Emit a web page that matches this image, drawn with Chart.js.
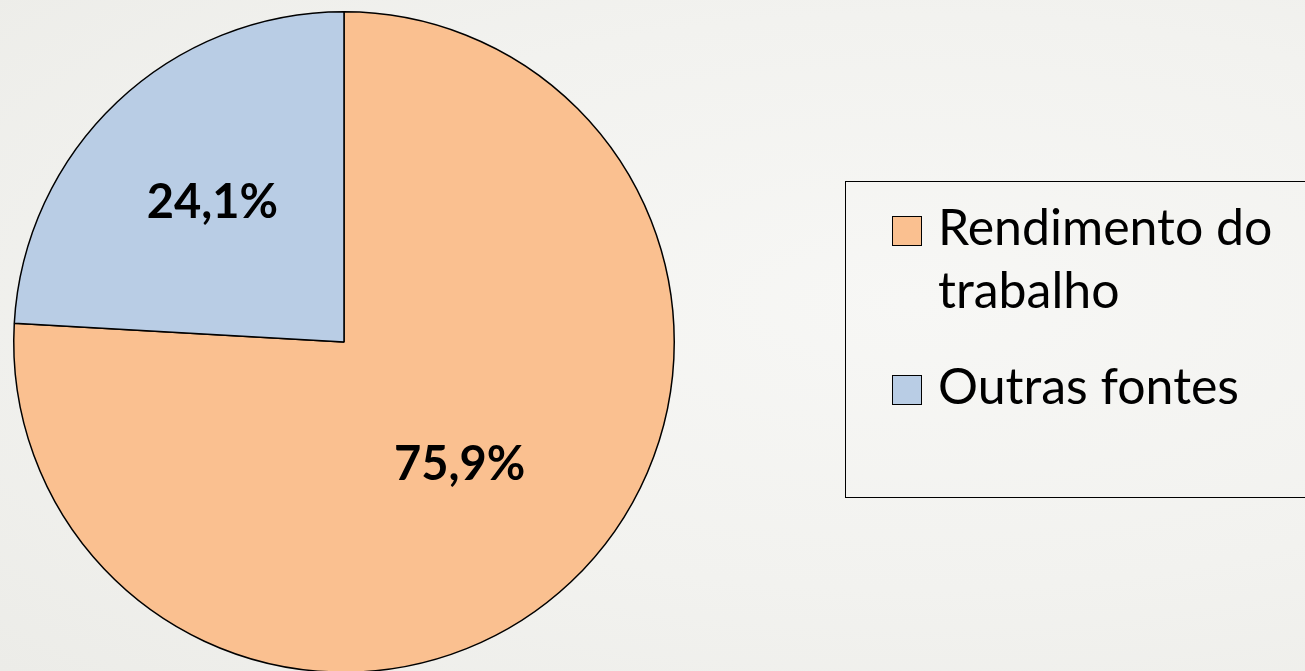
<!DOCTYPE html>
<html>
<head>
<meta charset="utf-8">
<script src="https://cdn.jsdelivr.net/npm/chart.js@4.4.0/dist/chart.umd.min.js"></script>
<style>
  html, body { margin: 0; padding: 0; overflow: hidden; }
  body {
    width: 1305px; height: 671px;
    background: radial-gradient(ellipse at 70% 45%, #f7f7f5 0%, #f2f2ef 55%, #ecece8 100%);
    font-family: Lato, "Open Sans", sans-serif;
    position: relative;
  }
  #wrap { position: absolute; left: 0; top: 0; width: 1305px; height: 700px; }
  #legend {
    position: absolute; left: 845px; top: 181px; width: 480px; height: 317px;
    border: 1.5px solid #000; box-sizing: border-box;
  }
  .item { position: absolute; left: 46px; font-size: 50px; line-height: 63px; color: #000; }
  .item .box {
    position: absolute; left: 0; width: 28px; height: 28px;
    border: 1.5px solid #000;
  }
  .item .txt { position: absolute; left: 46px; white-space: nowrap; }
</style>
</head>
<body>
<div id="wrap"><canvas id="pieChart"></canvas></div>
<div id="legend"></div>
<script>
// dados
var categorias = ['Rendimento do trabalho', 'Outras fontes'];
var linhasLegenda = [['Rendimento do', 'trabalho'], ['Outras fontes']];
var valores = [75.9, 24.1];
var rotulos = ['75,9%', '24,1%'];
var cores = ['#FAC090', '#B9CDE5'];

// posicao radial do rotulo (fracao do raio)
var raioRotulo = [0.51, 0.58];

var rotulosPlugin = {
  id: 'rotulos',
  afterDatasetsDraw: function (chart) {
    var ctx = chart.ctx;
    var meta = chart.getDatasetMeta(0);
    ctx.save();
    ctx.font = 'bold 47px Lato, "Open Sans", sans-serif';
    ctx.fillStyle = '#000';
    ctx.textAlign = 'center';
    ctx.textBaseline = 'middle';
    meta.data.forEach(function (arc, i) {
      var p = arc.getProps(['x', 'y', 'startAngle', 'endAngle', 'outerRadius'], true);
      var a = (p.startAngle + p.endAngle) / 2;
      var r = p.outerRadius * raioRotulo[i];
      ctx.fillText(rotulos[i], p.x + Math.cos(a) * r, p.y + Math.sin(a) * r);
    });
    ctx.restore();
  }
};

var chart = new Chart(document.getElementById('pieChart').getContext('2d'), {
  type: 'pie',
  data: {
    labels: categorias,
    datasets: [{
      data: valores,
      backgroundColor: cores,
      borderColor: '#000',
      borderWidth: 1.5
    }]
  },
  options: {
    responsive: true,
    maintainAspectRatio: false,
    animation: false,
    layout: { padding: { left: 13, top: 11, right: 630, bottom: 27 } },
    plugins: {
      legend: { display: false },
      tooltip: { enabled: false }
    }
  },
  plugins: [rotulosPlugin]
});

// legenda em HTML
var leg = document.getElementById('legend');
var topos = [13, 172];
categorias.forEach(function (c, i) {
  var d = document.createElement('div');
  d.className = 'item';
  d.style.top = topos[i] + 'px';
  var b = document.createElement('div');
  b.className = 'box';
  b.style.background = cores[i];
  b.style.top = '21px';
  var t = document.createElement('div');
  t.className = 'txt';
  t.innerHTML = linhasLegenda[i].join('<br>');
  d.appendChild(b);
  d.appendChild(t);
  leg.appendChild(d);
});
</script>
</body>
</html>
